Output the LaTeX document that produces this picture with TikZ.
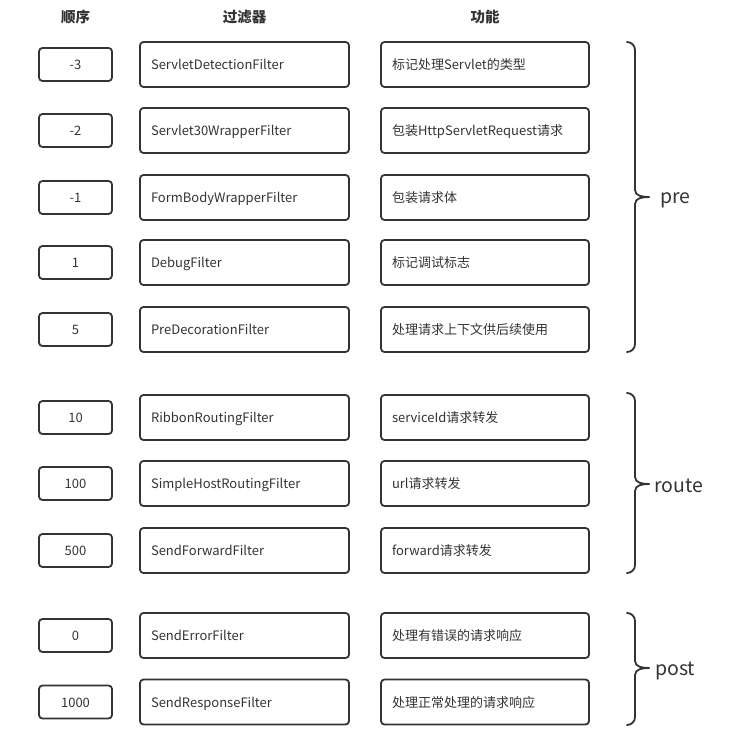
\documentclass[tikz,border=0pt]{standalone}
\usepackage{fontspec}
\setmainfont{Noto Sans CJK SC}
\definecolor{ink}{HTML}{333333}
\begin{document}
\begin{tikzpicture}[x=1pt,y=-1pt,
  boxbase/.style={draw=ink, line width=1.8pt, rounded corners=3.5pt, text=ink, font=\fontsize{13}{16}\selectfont, text height=10pt, text depth=0pt},
  ordbox/.style={boxbase, minimum width=73pt, minimum height=33pt, inner sep=0pt},
  fltbox/.style={boxbase, minimum height=45pt, text width=187pt, inner xsep=11pt, inner ysep=0pt, align=left},
  funbox/.style={boxbase, minimum height=45pt, text width=186pt, inner xsep=11pt, inner ysep=0pt, align=left},
  head/.style={text=ink, font=\fontsize{14.5}{17}\selectfont\bfseries},
  grp/.style={text=ink, font=\fontsize{19.5}{22}\selectfont, anchor=base west, inner sep=0pt},
  bracestyle/.style={draw=ink, line width=1.8pt, line cap=round, line join=round}]
\useasboundingbox (0,0) rectangle (728,733);
\newcommand\mybrace[3]{%
  \draw[bracestyle] (627,#1) to[out=0,in=90] (635,{#1+8}) -- (635,{#3-7}) to[out=-90,in=180] (649,#3);
  \draw[bracestyle] (649,#3) to[out=180,in=90] (635,{#3+7}) -- (635,{#2-8}) to[out=-90,in=0] (627,#2);}
% headers
\node[head] (h1) at (75.5,17) {顺序};
\node[head] (h2) at (244.5,17) {过滤器};
\node[head] (h3) at (485,17) {功能};
% rows
\foreach \y/\o/\f/\g [count=\i] in {
  64.5/-3/ServletDetectionFilter/标记处理Servlet的类型,
  130.5/-2/Servlet30WrapperFilter/包装HttpServletRequest请求,
  197.5/-1/FormBodyWrapperFilter/包装请求体,
  262.5/1/DebugFilter/标记调试标志,
  329.5/5/PreDecorationFilter/处理请求上下文供后续使用,
  417.5/10/RibbonRoutingFilter/serviceId请求转发,
  483.5/100/SimpleHostRoutingFilter/url请求转发,
  550.5/500/SendForwardFilter/forward请求转发,
  635.5/0/SendErrorFilter/处理有错误的请求响应,
  702/1000/SendResponseFilter/处理正常处理的请求响应}{
  \node[ordbox] (o\i) at (75.5,\y) {\o};
  \node[fltbox] (f\i) at (244.5,\y) {\f};
  \node[funbox] (g\i) at (485,\y) {\g};
}
% braces
\mybrace{42}{352}{197}
\mybrace{393}{573}{484}
\mybrace{613}{725}{668}
\node[grp] (pre) at (660,203) {pre};
\node[grp] (route) at (654,492) {route};
\node[grp] (post) at (655,675) {post};
\end{tikzpicture}
\end{document}
